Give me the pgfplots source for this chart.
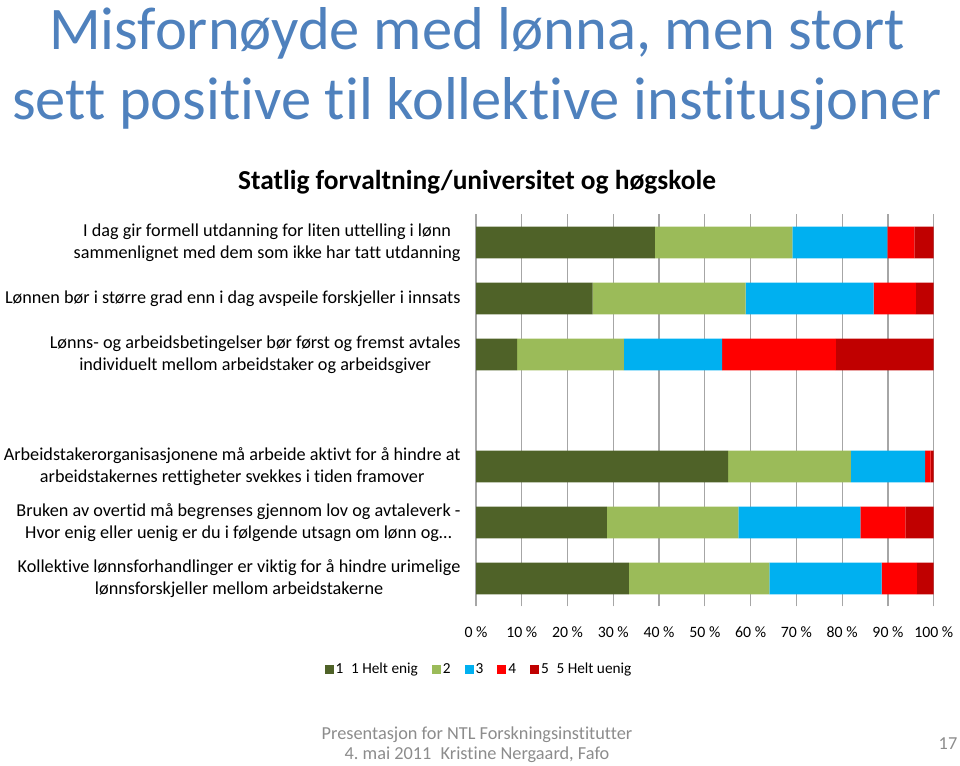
\documentclass[border=0pt]{standalone}
\usepackage{fontspec}
\setmainfont{Carlito}[Ligatures={NoCommon}]
\usepackage{pgfplots}
\pgfplotsset{compat=1.18}
\frenchspacing

\definecolor{titleblue}{HTML}{4F81BD}
\definecolor{c1}{HTML}{4F6228}
\definecolor{c2}{HTML}{9BBB59}
\definecolor{c3}{HTML}{00B0F0}
\definecolor{c4}{HTML}{FF0000}
\definecolor{c5}{HTML}{C00000}
\definecolor{gridgray}{HTML}{A6A6A6}
\definecolor{footgray}{HTML}{8C8C8C}

\begin{document}
\begin{tikzpicture}[x=1pt,y=1pt]
\useasboundingbox (0,0) rectangle (960,765);

% titles
\node[anchor=base, text=titleblue, font=\fontsize{60.5}{62}\selectfont] at (477,715) {Misfornøyde med lønna, men stort};
\node[anchor=base, text=titleblue, font=\fontsize{60.5}{62}\selectfont] at (477,645) {sett positive til kollektive institusjoner};
\node[anchor=base, font=\fontsize{27.4}{30}\selectfont\bfseries] at (477,575) {Statlig forvaltning/universitet og høgskole};

\begin{axis}[
  at={(476pt,158.5pt)}, anchor=south west,
  width=457.7pt, height=392pt, scale only axis,
  xbar stacked, bar width=31.7pt,
  xmin=0, xmax=100, ymin=0.5, ymax=7.5,
  axis line style={gridgray, line width=1pt},
  axis x line*=bottom, axis y line*=left,
  x axis line style={draw=none},
  xmajorgrids=true, grid style={gridgray, line width=1.2pt},
  major tick length=0pt,
  xtick={0,10,...,100},
  xticklabels={0 \%,10 \%,20 \%,30 \%,40 \%,50 \%,60 \%,70 \%,80 \%,90 \%,100 \%},
  xticklabel style={font=\fontsize{15.8}{18}\selectfont, yshift=-17pt},
  ytick={1,...,7},
  yticklabels={
    {Kollektive lønnsforhandlinger er viktig for å hindre urimelige\\lønnsforskjeller mellom arbeidstakerne},
    {Bruken av overtid må begrenses gjennom lov og avtaleverk -\\Hvor enig eller uenig er du i følgende utsagn om lønn og…},
    {Arbeidstakerorganisasjonene må arbeide aktivt for å hindre at\\arbeidstakernes rettigheter svekkes i tiden framover},
    {},
    {Lønns- og arbeidsbetingelser bør først og fremst avtales\\individuelt mellom arbeidstaker og arbeidsgiver},
    {Lønnen bør i større grad enn i dag avspeile forskjeller i innsats},
    {I dag gir formell utdanning for liten uttelling i lønn\\sammenlignet med dem som ikke har tatt utdanning}},
  yticklabel style={align=center, font=\fontsize{18.2}{22}\selectfont, xshift=-12pt},
  legend style={at={(0.0066,-0.16)}, anchor=center, draw=none, fill=none,
    legend columns=5, font=\fontsize{15.3}{18}\selectfont,
    /tikz/every even column/.append style={column sep=12pt}},
  legend image code/.code={\fill[#1] (0pt,-4.5pt) rectangle (9pt,4.5pt);},
]
\addplot[fill=c1, draw=none] coordinates {(33.4,1) (28.6,2) (55.1,3) (9.0,5) (25.5,6) (39.1,7)};
\addplot[fill=c2, draw=none] coordinates {(30.7,1) (28.7,2) (26.8,3) (23.3,5) (33.4,6) (30.0,7)};
\addplot[fill=c3, draw=none] coordinates {(24.5,1) (26.7,2) (16.2,3) (21.5,5) (28.0,6) (20.8,7)};
\addplot[fill=c4, draw=none] coordinates {(7.7,1) (9.8,2) (1.2,3) (24.8,5) (9.2,6) (5.9,7)};
\addplot[fill=c5, draw=none] coordinates {(3.7,1) (6.2,2) (0.7,3) (21.4,5) (3.9,6) (4.2,7)};
\legend{1\enspace 1 Helt enig, 2, 3, 4, 5\enspace 5 Helt uenig}
\end{axis}

% footer
\node[anchor=base, text=footgray, font=\fontsize{18.3}{20}\selectfont] at (477,26) {Presentasjon for NTL Forskningsinstitutter};
\node[anchor=base, text=footgray, font=\fontsize{18.3}{20}\selectfont] at (477,6) {4. mai 2011\enspace Kristine Nergaard, Fafo};
\node[anchor=base, text=footgray, font=\fontsize{18.3}{20}\selectfont] at (948,16) {17};
\end{tikzpicture}
\end{document}
